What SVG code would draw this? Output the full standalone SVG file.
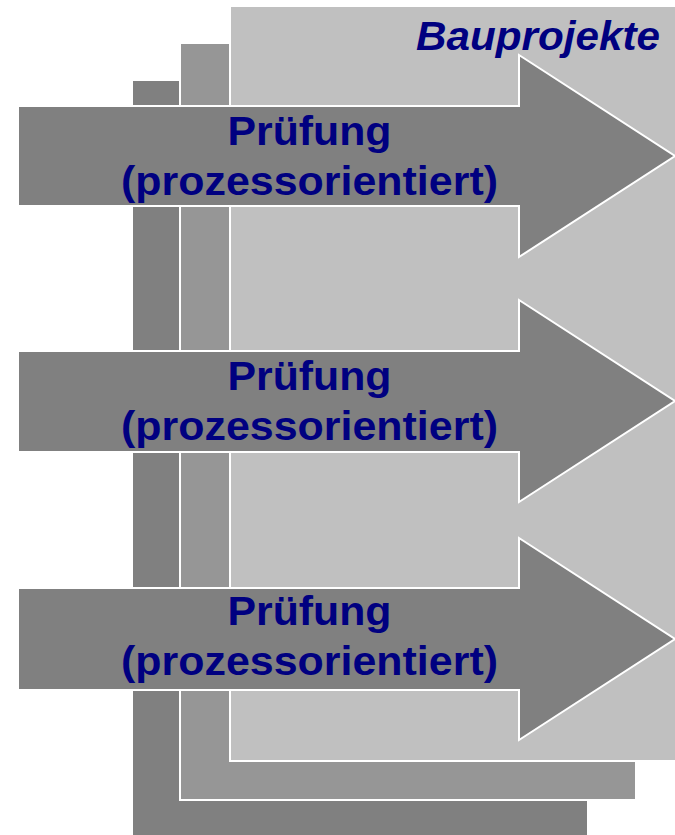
<svg xmlns="http://www.w3.org/2000/svg" width="675" height="835" viewBox="0 0 675 835">
<style>
.page{stroke:#FFFFFF;stroke-width:2}
.arrow{fill:#808080;stroke:#FFFFFF;stroke-width:2;stroke-linejoin:miter}
.lbl{font-family:"Liberation Sans",Arial,sans-serif;font-weight:bold;font-size:41px;fill:#000080;text-anchor:middle}
.title{font-family:"Liberation Sans",Arial,sans-serif;font-weight:bold;font-style:italic;font-size:41px;fill:#000080;text-anchor:end}
</style>
<rect width="675" height="835" fill="#FFFFFF"/>
<g id="page-back">
<rect class="page" x="132" y="80" width="456" height="770" fill="#808080"/>
</g>
<g id="page-middle">
<rect class="page" x="180" y="43" width="456" height="757" fill="#969696"/>
</g>
<g id="page-front">
<rect class="page" x="230" y="6" width="460" height="755" fill="#C0C0C0"/>
<text class="title" x="660" y="50" textLength="244" lengthAdjust="spacingAndGlyphs">Bauprojekte</text>
</g>
<g id="connectors"></g>
<g id="arrow1">
<polygon class="arrow" points="18,106 519,106 519,55 675,156 519,257 519,206 18,206"/>
<text class="lbl" x="309.5" y="145" textLength="164" lengthAdjust="spacingAndGlyphs">Prüfung</text>
<text class="lbl" x="309.5" y="195" textLength="377" lengthAdjust="spacingAndGlyphs">(prozessorientiert)</text>
</g>
<g id="arrow2">
<polygon class="arrow" points="18,351 519,351 519,300 675,401 519,502 519,452 18,452"/>
<text class="lbl" x="309.5" y="390" textLength="164" lengthAdjust="spacingAndGlyphs">Prüfung</text>
<text class="lbl" x="309.5" y="440" textLength="377" lengthAdjust="spacingAndGlyphs">(prozessorientiert)</text>
</g>
<g id="arrow3">
<polygon class="arrow" points="18,588 519,588 519,538 675,639 519,740 519,690 18,690"/>
<text class="lbl" x="309.5" y="625" textLength="164" lengthAdjust="spacingAndGlyphs">Prüfung</text>
<text class="lbl" x="309.5" y="675" textLength="377" lengthAdjust="spacingAndGlyphs">(prozessorientiert)</text>
</g>
</svg>
